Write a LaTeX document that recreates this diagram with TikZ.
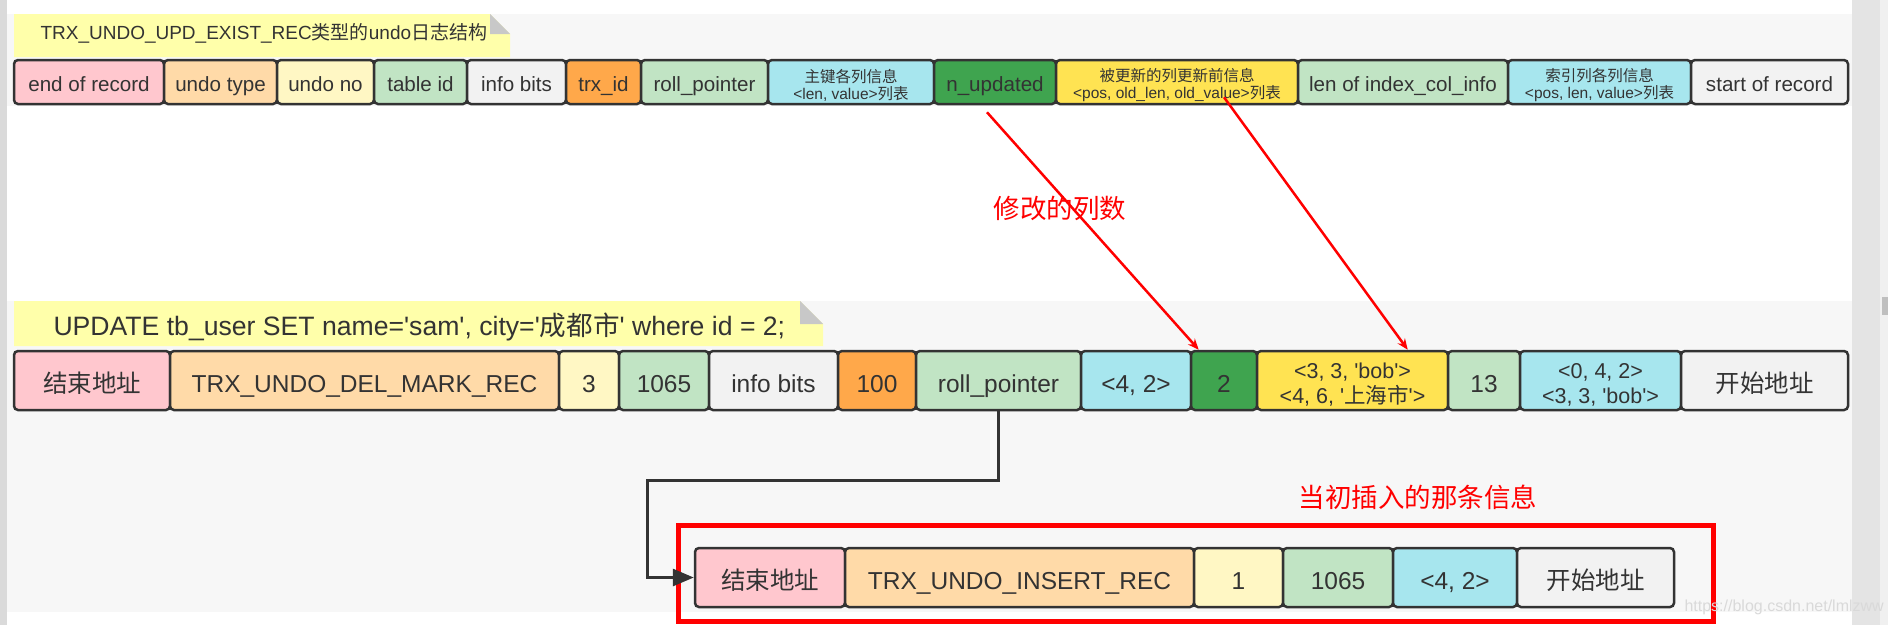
\documentclass[tikz,border=0pt]{standalone}
\usepackage{fontspec}
\setmainfont{Liberation Sans}
\newfontfamily\cjk{Noto Sans CJK SC}
\usetikzlibrary{arrows.meta}

\definecolor{txt}{RGB}{51,51,51}
\definecolor{bandbg}{RGB}{247,247,247}
\definecolor{stripgrey}{RGB}{218,218,218}
\definecolor{scrollgrey}{RGB}{228,228,228}
\definecolor{notebg}{RGB}{255,255,170}
\definecolor{foldgrey}{RGB}{200,200,200}
\definecolor{cpink}{RGB}{255,199,206}
\definecolor{clorange}{RGB}{255,218,168}
\definecolor{clyellow}{RGB}{255,247,196}
\definecolor{clgreen}{RGB}{193,228,196}
\definecolor{clgrey}{RGB}{242,242,242}
\definecolor{corange}{RGB}{255,168,74}
\definecolor{ccyan}{RGB}{167,230,238}
\definecolor{cdgreen}{RGB}{63,164,79}
\definecolor{cyellow}{RGB}{255,227,82}

\newcommand\sq{\textquotesingle}

\begin{document}
\begin{tikzpicture}[x=1pt,y=-1pt,
  cell/.style={draw=txt,line width=2.5pt,rounded corners=4pt,inner sep=0pt,text=txt,align=center},
  rowtop/.style={cell,minimum height=44pt,text height=18pt,text depth=0pt,font=\fontsize{20.6}{24}\selectfont},
  rowtopsmall/.style={cell,minimum height=44pt,font=\fontsize{15.5}{18}\selectfont},
  rowmid/.style={cell,minimum height=59pt,text height=23.5pt,text depth=0pt,font=\fontsize{24.5}{29}\selectfont},
  rowmidsmall/.style={cell,minimum height=59pt,font=\fontsize{21.5}{25}\selectfont},
  redarrow/.style={red,line width=2.5pt,-{Stealth[length=11pt,width=9pt]}},
  link/.style={txt,line width=3pt,-{Triangle[length=21pt,width=17pt]}}]
\useasboundingbox (0,0) rectangle (1888,625);
\fill[white] (0,0) rectangle (1888,625);
\fill[stripgrey] (0,0) rectangle (7,625);
\fill[bandbg] (7,14) rectangle (1852,106);
\fill[bandbg] (7,301) rectangle (1852,612);
\fill[scrollgrey] (1852,0) rectangle (1880,625);
\fill[black!6] (1880,0) rectangle (1888,625);
\fill[black!25] (1882,297) rectangle (1888,315);

\fill[notebg] (14,14) -- (490,14) -- (510,34) -- (510,57) -- (14,57) -- cycle;
\fill[foldgrey] (490,14) -- (490,34) -- (510,34) -- cycle;
\node[anchor=west,text=txt,font=\fontsize{19}{23}\selectfont] (title) at (37,33) {TRX\_UNDO\_UPD\_EXIST\_REC{\cjk 类型的}undo{\cjk 日志结构}};

\node[rowtop,fill=cpink,minimum width=150pt] (tend) at (89,82) {end of record};
\node[rowtop,fill=clorange,minimum width=113pt] (ttype) at (220.5,82) {undo type};
\node[rowtop,fill=clyellow,minimum width=97pt] (tno) at (325.5,82) {undo no};
\node[rowtop,fill=clgreen,minimum width=93pt] (ttab) at (420.5,82) {table id};
\node[rowtop,fill=clgrey,minimum width=99pt] (tinfo) at (516.5,82) {info bits};
\node[rowtop,fill=corange,minimum width=75pt] (ttrx) at (603.5,82) {trx\_id};
\node[rowtop,fill=clgreen,minimum width=127pt] (troll) at (704.5,82) {roll\_pointer};
\node[rowtopsmall,fill=ccyan,minimum width=166pt] (tkey) at (851,82) {\rule{0pt}{19pt}\cjk 主键各列信息\\[-1pt]<len, value>{\cjk 列表}};
\node[rowtop,fill=cdgreen,minimum width=122pt] (tnupd) at (995,82) {n\_updated};
\node[rowtopsmall,fill=cyellow,minimum width=242pt] (tupd) at (1177,82) {\rule{0pt}{19pt}\cjk 被更新的列更新前信息\\[-1pt]<pos, old\_len, old\_value>{\cjk 列表}};
\node[rowtop,fill=clgreen,minimum width=210pt] (tlen) at (1403,82) {len of index\_col\_info};
\node[rowtopsmall,fill=ccyan,minimum width=183pt] (tidx) at (1599.5,82) {\rule{0pt}{19pt}\cjk 索引列各列信息\\[-1pt]<pos, len, value>{\cjk 列表}};
\node[rowtop,fill=clgrey,minimum width=157pt] (tstart) at (1769.5,82) {start of record};

\node[text=red,font=\cjk\fontsize{26.5}{30}\selectfont] (ncols) at (1060,208) {修改的列数};

\fill[notebg] (14,301) -- (800,301) -- (823,324) -- (823,346) -- (14,346) -- cycle;
\fill[foldgrey] (800,301) -- (800,324) -- (823,324) -- cycle;
\node[anchor=west,text=txt,font=\fontsize{26.6}{30}\selectfont] (sql) at (50,327) {UPDATE tb\_user SET name=\sq sam\sq, city=\sq{\cjk 成都市}\sq{} where id = 2;};

\node[rowmid,fill=cpink,minimum width=156pt] (mend) at (92,380.5) {\cjk 结束地址};
\node[rowmid,fill=clorange,minimum width=389pt] (mtype) at (364.5,380.5) {TRX\_UNDO\_DEL\_MARK\_REC};
\node[rowmid,fill=clyellow,minimum width=60pt] (mno) at (589,380.5) {3};
\node[rowmid,fill=clgreen,minimum width=90pt] (mtab) at (664,380.5) {1065};
\node[rowmid,fill=clgrey,minimum width=129pt] (minfo) at (773.5,380.5) {info bits};
\node[rowmid,fill=corange,minimum width=78pt] (mtrx) at (877,380.5) {100};
\node[rowmid,fill=clgreen,minimum width=165pt] (mroll) at (998.5,380.5) {roll\_pointer};
\node[rowmid,fill=ccyan,minimum width=110pt] (mkey) at (1136,380.5) {<4, 2>};
\node[rowmid,fill=cdgreen,minimum width=66pt] (mnupd) at (1224,380.5) {2};
\node[rowmidsmall,fill=cyellow,minimum width=191pt] (mupd) at (1352.5,380.5) {\rule{0pt}{23pt}<3, 3, \sq bob\sq>\\<4, 6, \sq{\cjk 上海市}\sq>};
\node[rowmid,fill=clgreen,minimum width=72pt] (mlen) at (1484,380.5) {13};
\node[rowmidsmall,fill=ccyan,minimum width=161pt] (midx) at (1600.5,380.5) {\rule{0pt}{23pt}<0, 4, 2>\\<3, 3, \sq bob\sq>};
\node[rowmid,fill=clgrey,minimum width=167pt] (mstart) at (1764.5,380.5) {\cjk 开始地址};

\node[text=red,font=\cjk\fontsize{26.5}{30}\selectfont] (nfirst) at (1418,497) {当初插入的那条信息};
\draw[red,line width=5pt] (678.5,525.5) rectangle (1713.5,621.5);

\node[rowmid,fill=cpink,minimum width=150pt] (bend) at (770,577.5) {\cjk 结束地址};
\node[rowmid,fill=clorange,minimum width=349pt] (btype) at (1019.5,577.5) {TRX\_UNDO\_INSERT\_REC};
\node[rowmid,fill=clyellow,minimum width=89pt] (bno) at (1238.5,577.5) {1};
\node[rowmid,fill=clgreen,minimum width=110pt] (btab) at (1338,577.5) {1065};
\node[rowmid,fill=ccyan,minimum width=124pt] (bkey) at (1455,577.5) {<4, 2>};
\node[rowmid,fill=clgrey,minimum width=157pt] (bstart) at (1595.5,577.5) {\cjk 开始地址};

\node[anchor=west,text=black!15,font=\fontsize{16}{18}\selectfont] (mark) at (1681,607) {https://blog.csdn.net/lmlzww};

\draw[redarrow] ([xshift=-8pt,yshift=-7pt]tnupd.south) -- ([xshift=9pt]mnupd.north west);
\draw[redarrow] ([xshift=47pt,yshift=8pt]tupd.south) -- ([xshift=152pt]mupd.north west);
\coordinate (jog) at (647,480);
\draw[link] (mroll.south) |- (jog) |- (bend.west);
\end{tikzpicture}
\end{document}
